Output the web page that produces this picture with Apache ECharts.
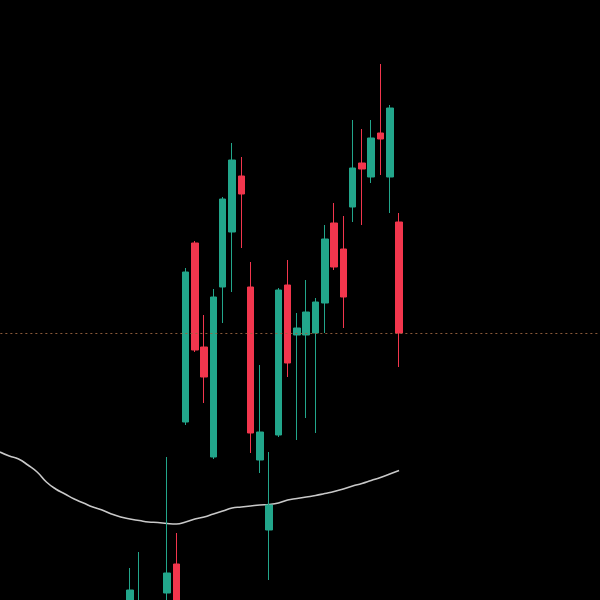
<!DOCTYPE html>
<html>
<head>
<meta charset="utf-8">
<script src="https://cdn.jsdelivr.net/npm/echarts@6/dist/echarts.min.js"></script>
<style>
html,body{margin:0;padding:0;background:#000;}
#c{width:600px;height:600px;}
</style>
</head>
<body>
<div id="c"></div>
<script>
// category indices (65 slots, candles occupy 14..43)
var categories = [];
for (var k = 0; k < 65; k++) categories.push('D' + (k + 1));

// candle values: [open, close, low, high]; '-' where no candle visible
var candles = [
  '-', '-', '-', '-', '-', '-', '-', '-', '-', '-', '-', '-', '-', '-',
  [97.5, 101.0, 96.0, 103.2],
  [97.0, 99.0, 95.0, 104.8],
  [98.5, 97.0, 95.5, 99.3],
  [97.0, 98.8, 95.8, 99.5],
  [100.7, 102.7, 98.0, 114.3],
  [103.6, 98.5, 97.0, 106.7],
  [117.8, 132.8, 117.5, 133.2],
  [135.7, 125.0, 124.8, 135.9],
  [125.3, 122.3, 119.7, 128.5],
  [114.3, 130.3, 114.1, 131.1],
  [131.3, 140.1, 127.7, 140.3],
  [136.8, 144.0, 130.8, 145.7],
  [142.4, 140.6, 135.2, 144.3],
  [131.3, 116.7, 114.7, 133.8],
  [114.0, 116.8, 112.7, 123.5],
  [107.0, 109.5, 102.0, 114.8],
  [116.5, 131.0, 116.3, 131.2],
  [131.5, 123.7, 122.3, 134.0],
  [126.5, 127.2, 116.0, 128.7],
  [126.5, 128.8, 118.2, 132.0],
  [126.7, 129.8, 116.7, 130.2],
  [129.7, 136.1, 126.7, 137.5],
  [137.7, 133.3, 133.0, 139.7],
  [135.1, 130.3, 127.2, 138.4],
  [139.3, 143.2, 137.8, 148.0],
  [143.7, 143.1, 137.5, 147.1],
  [142.3, 146.2, 141.7, 148.0],
  [146.7, 146.1, 142.5, 153.6],
  [142.3, 149.2, 138.7, 149.5],
  [137.8, 126.7, 123.3, 138.7]
];

// long moving average line
var maValues = [
  114.8, 114.4, 114.1, 113.5, 112.8, 111.8, 111.1, 110.6, 110.1, 109.7,
  109.3, 109.0, 108.6, 108.3, 108.1, 107.95, 107.8, 107.75, 107.65, 107.6,
  107.8, 108.1, 108.3, 108.6, 108.9, 109.2, 109.3, 109.4, 109.5, 109.55,
  109.7, 110.0, 110.15, 110.3, 110.45, 110.65, 110.85, 111.1, 111.4, 111.65,
  111.95, 112.25, 112.6, 112.95
];

var lastPrice = 126.7;

var chart = echarts.init(document.getElementById('c'));
chart.setOption({
  backgroundColor: '#000000',
  animation: false,
  grid: { left: -4.64, width: 603.2, top: 0, bottom: 0, outerBoundsMode: 'none', containLabel: false },
  xAxis: {
    type: 'category',
    data: categories,
    boundaryGap: true,
    show: false
  },
  yAxis: {
    type: 'value',
    min: 100,
    max: 160,
    show: false,
    splitLine: { show: false }
  },
  series: [
    {
      type: 'candlestick',
      data: candles,
      barWidth: 7,
      clip: true,
      itemStyle: {
        color: '#22a68b',
        color0: '#f2364d',
        borderColor: '#22a68b',
        borderColor0: '#f2364d',
        borderWidth: 1
      },
      markLine: {
        silent: true,
        symbol: ['none', 'none'],
        label: { show: false },
        lineStyle: { color: '#9a6440', type: [2, 3], width: 1, opacity: 0.9 },
        data: [{ yAxis: lastPrice }]
      }
    },
    {
      type: 'line',
      data: maValues,
      smooth: true,
      symbol: 'none',
      lineStyle: { color: '#c9c9c9', width: 1.6 },
      z: 1
    }
  ]
});
</script>
</body>
</html>
